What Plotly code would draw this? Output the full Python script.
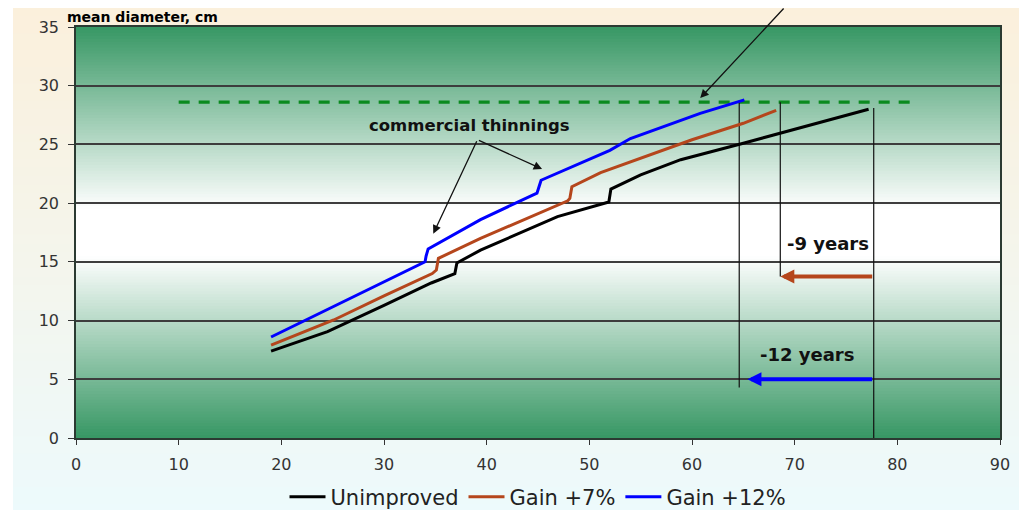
import plotly.graph_objects as go

# ---------------- data ----------------
age_unimproved = [19, 24.5, 30, 34.6, 36.9, 37.1, 39.4, 46.9, 51.9, 52.1, 55, 58.9, 65, 70, 77.2]
diam_unimproved = [7.4, 9.05, 11.3, 13.2, 14.0, 14.9, 16.0, 18.85, 20.1, 21.2, 22.4, 23.7, 25.1, 26.3, 28.0]

age_gain7 = [19, 25.1, 30, 34.7, 35.1, 35.3, 39.4, 47.9, 48.1, 48.3, 51.1, 57.0, 60, 65, 68.2]
diam_gain7 = [7.9, 10.05, 12.1, 14.0, 14.3, 15.3, 17.0, 20.2, 20.4, 21.4, 22.6, 24.5, 25.4, 26.8, 27.9]

age_gain12 = [19, 23.5, 30, 34.0, 34.1, 34.3, 39.4, 44.9, 45.1, 45.3, 52.0, 54.0, 60.8, 65.1]
diam_gain12 = [8.6, 10.5, 13.3, 15.0, 15.5, 16.1, 18.6, 20.85, 21.4, 21.95, 24.5, 25.5, 27.65, 28.8]

series_names = ["Unimproved", "Gain +7%", "Gain +12%"]

target_diameter = 28.6
target_age_span = [10, 82]

guide_ages = [64.6, 68.6, 77.7]
guide_tops = [28.6, 28.6, 28.1]
guide_bottoms = [4.3, 13.75, 0.0]

gain7_arrow_y = 13.75
gain7_arrow_from = 77.7
gain7_arrow_to = 68.6
gain12_arrow_y = 5.0
gain12_arrow_from = 77.7
gain12_arrow_to = 65.4

label_gain7 = "-9 years"
label_gain7_pos = [73.25, 16.6]
label_gain12 = "-12 years"
label_gain12_pos = [71.2, 7.07]

thinning_label = "commercial thinnings"
thinning_label_pos = [38.3, 26.65]
thinning_arrow_tail = [39.1, 25.4]
thinning_arrow_heads_x = [34.8, 45.4]
thinning_arrow_heads_y = [17.4, 22.9]

top_arrow_tail = [69.06, 36.7]
top_arrow_head = [60.8, 28.95]

x_ticks = list(range(0, 91, 10))
y_ticks = list(range(0, 36, 5))

y_title = "mean diameter, cm"

# ---------------- styling ----------------
COL_BLACK = "#000000"
COL_BROWN = "#B5461C"
COL_BLUE = "#0000FF"
COL_TARGET = "#0B8A1F"
FONT = "DejaVu Sans, Verdana, Arial, sans-serif"

# page has an 8px body margin: figure origin sits at page (8, 8)
OFF = 8
W, H = 1027 - OFF, 510 - OFF
PLOT_L, PLOT_R, PLOT_T, PLOT_B = 76 - OFF, 1000 - OFF, 27 - OFF, 438 - OFF


def hex2rgb(h):
    h = h.lstrip("#")
    return tuple(int(h[i:i + 2], 16) for i in (0, 2, 4))


def mix(c1, c2, t):
    a, b = hex2rgb(c1), hex2rgb(c2)
    return "rgb(%d,%d,%d)" % tuple(round(a[i] + (b[i] - a[i]) * t) for i in range(3))


def px2paper_x(page_px):
    return (page_px - OFF - PLOT_L) / (PLOT_R - PLOT_L)


def px2paper_y(page_py):
    return (PLOT_B - (page_py - OFF)) / (PLOT_B - PLOT_T)


shapes = []

# paper background gradient (cream -> pale cyan)
n_paper = 60
top_px, bot_px = 8, 512
for i in range(n_paper):
    p0 = top_px + (bot_px - top_px) * i / n_paper
    p1 = top_px + (bot_px - top_px) * (i + 2) / n_paper
    t = i / (n_paper - 1)
    shapes.append(dict(type="rect", xref="paper", yref="paper",
                       x0=px2paper_x(13), x1=px2paper_x(1040),
                       y0=px2paper_y(p1), y1=px2paper_y(p0),
                       fillcolor=mix("#FBF0DC", "#EDFAFC", t),
                       line=dict(width=0), layer="below"))

# plot area gradient: green at the edges, white in the middle
GREEN = "#379764"
step = 0.25
n_plot = int(35 / step)
for i in range(n_plot):
    y0 = i * step
    yc = y0 + step / 2
    d = abs(yc - 17.5)
    t = max(0.0, min(1.0, (d - 2.0) / 15.5))
    shapes.append(dict(type="rect", xref="x", yref="y",
                       x0=0, x1=90, y0=y0, y1=min(35, y0 + 2 * step),
                       fillcolor=mix("#FFFFFF", GREEN, t),
                       line=dict(width=0), layer="below"))

fig = go.Figure()

# target diameter dashed line
fig.add_trace(go.Scatter(x=target_age_span, y=[target_diameter] * 2, mode="lines",
                         line=dict(color=COL_TARGET, width=3.2, dash="11px,9px"),
                         showlegend=False, hoverinfo="skip"))

# vertical guide lines
for gx, gt, gb in zip(guide_ages, guide_tops, guide_bottoms):
    fig.add_trace(go.Scatter(x=[gx, gx], y=[gt, gb], mode="lines",
                             line=dict(color="#111111", width=1.2),
                             showlegend=False, hoverinfo="skip"))

for name, xs, ys, col in zip(series_names,
                             [age_unimproved, age_gain7, age_gain12],
                             [diam_unimproved, diam_gain7, diam_gain12],
                             [COL_BLACK, COL_BROWN, COL_BLUE]):
    fig.add_trace(go.Scatter(x=xs, y=ys, mode="lines", name=name,
                             line=dict(color=col, width=3)))

annotations = []
annotations.append(dict(text="<b>%s</b>" % y_title, xref="paper", yref="paper",
                        x=px2paper_x(66), y=px2paper_y(8), xanchor="left", yanchor="top",
                        showarrow=False, borderpad=0,
                        font=dict(family=FONT, size=14, color="#000")))
annotations.append(dict(text="<b>%s</b>" % label_gain7, x=label_gain7_pos[0], y=label_gain7_pos[1],
                        xref="x", yref="y", showarrow=False,
                        font=dict(family=FONT, size=18, color="#111")))
annotations.append(dict(text="<b>%s</b>" % label_gain12, x=label_gain12_pos[0], y=label_gain12_pos[1],
                        xref="x", yref="y", showarrow=False,
                        font=dict(family=FONT, size=18, color="#111")))
annotations.append(dict(text="<b>%s</b>" % thinning_label, x=thinning_label_pos[0], y=thinning_label_pos[1],
                        xref="x", yref="y", showarrow=False,
                        font=dict(family=FONT, size=16.5, color="#111")))
for hx, hy in zip(thinning_arrow_heads_x, thinning_arrow_heads_y):
    annotations.append(dict(text="", x=hx, y=hy, ax=thinning_arrow_tail[0], ay=thinning_arrow_tail[1],
                            xref="x", yref="y", axref="x", ayref="y", showarrow=True,
                            arrowhead=2, arrowsize=1.3, arrowwidth=1.3, arrowcolor="#111", standoff=0))
annotations.append(dict(text="", x=top_arrow_head[0], y=top_arrow_head[1],
                        ax=top_arrow_tail[0], ay=top_arrow_tail[1],
                        xref="x", yref="y", axref="x", ayref="y", showarrow=True,
                        arrowhead=2, arrowsize=1.3, arrowwidth=1.3, arrowcolor="#111", standoff=0))
annotations.append(dict(text="", x=gain7_arrow_to, y=gain7_arrow_y, ax=gain7_arrow_from, ay=gain7_arrow_y,
                        xref="x", yref="y", axref="x", ayref="y", showarrow=True,
                        arrowhead=2, arrowsize=0.7, arrowwidth=4, arrowcolor=COL_BROWN, standoff=0))
annotations.append(dict(text="", x=gain12_arrow_to, y=gain12_arrow_y, ax=gain12_arrow_from, ay=gain12_arrow_y,
                        xref="x", yref="y", axref="x", ayref="y", showarrow=True,
                        arrowhead=2, arrowsize=0.7, arrowwidth=4, arrowcolor=COL_BLUE, standoff=0))

fig.update_layout(
    width=W, height=H,
    margin=dict(l=PLOT_L, r=W - PLOT_R, t=PLOT_T, b=H - PLOT_B, pad=0, autoexpand=False),
    paper_bgcolor="#FFFFFF",
    plot_bgcolor="rgba(0,0,0,0)",
    shapes=shapes,
    annotations=annotations,
    font=dict(family=FONT, size=16, color="#333"),
    showlegend=True,
    legend=dict(orientation="h", x=0.5, xanchor="center", y=px2paper_y(497), yanchor="middle",
                bgcolor="rgba(0,0,0,0)", font=dict(family=FONT, size=21, color="#222"),
                itemwidth=36, tracegroupgap=0),
    xaxis=dict(range=[0, 90], tickvals=x_ticks, ticks="outside", ticklen=5, tickwidth=1.2,
               tickcolor="#333", showline=True, linecolor="#2b3a32", linewidth=1.5, mirror=True,
               showgrid=False, zeroline=False, tickfont=dict(family=FONT, size=16, color="#333"),
               ticklabelstandoff=6),
    yaxis=dict(range=[0, 35], tickvals=y_ticks, ticks="outside", ticklen=6, tickwidth=1.2,
               tickcolor="#333", showline=True, linecolor="#2b3a32", linewidth=1.5, mirror=True,
               showgrid=True, gridcolor="#3d3d3d", gridwidth=1.5, zeroline=False,
               tickfont=dict(family=FONT, size=16, color="#333"), ticklabelstandoff=6),
)

fig.write_html("out.html")
